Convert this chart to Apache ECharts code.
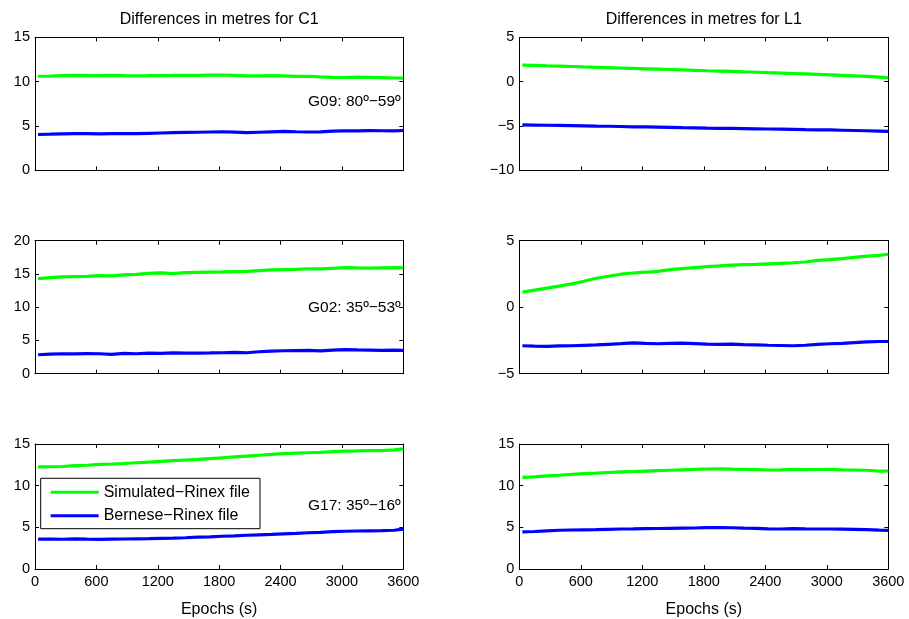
<!DOCTYPE html>
<html>
<head>
<meta charset="utf-8">
<script src="https://cdn.jsdelivr.net/npm/echarts@6/dist/echarts.min.js"></script>
<style>html,body{margin:0;padding:0;background:#fff}#c{width:909px;height:619px}</style>
</head>
<body>
<div id="c"></div>
<script>
// ---- data ----
const epochs = [30,150,270,390,510,630,750,870,990,1110,1230,1350,1470,1590,1710,1830,1950,2070,2190,2310,2430,2550,2670,2790,2910,3030,3150,3270,3390,3510,3600];
const xTicks = [0,600,1200,1800,2400,3000,3600];
const seriesNames = ['Simulated\u2212Rinex file','Bernese\u2212Rinex file'];
const columnTitles = ['Differences in metres for C1','Differences in metres for L1'];
const satLabels = ['G09: 80\u00BA\u221259\u00BA','G02: 35\u00BA\u221253\u00BA','G17: 35\u00BA\u221216\u00BA'];
const xLabel = 'Epochs (s)';

// C1, G09
const simC1G09 = [10.62,10.64,10.68,10.72,10.70,10.69,10.71,10.68,10.67,10.68,10.70,10.71,10.73,10.72,10.74,10.76,10.72,10.66,10.67,10.70,10.65,10.60,10.62,10.55,10.50,10.48,10.52,10.50,10.47,10.42,10.40];
const berC1G09 = [4.05,4.08,4.12,4.15,4.14,4.13,4.15,4.16,4.14,4.18,4.22,4.25,4.28,4.30,4.33,4.36,4.32,4.25,4.30,4.35,4.40,4.36,4.33,4.35,4.42,4.45,4.46,4.48,4.47,4.46,4.50];
// L1, G09
const simL1G09 = [1.88,1.85,1.80,1.76,1.72,1.67,1.63,1.58,1.54,1.50,1.46,1.42,1.38,1.34,1.29,1.24,1.20,1.16,1.11,1.07,1.02,0.98,0.93,0.88,0.83,0.78,0.72,0.66,0.60,0.52,0.45];
const berL1G09 = [-4.87,-4.89,-4.91,-4.93,-4.95,-4.97,-5.00,-5.02,-5.05,-5.08,-5.10,-5.12,-5.15,-5.18,-5.20,-5.23,-5.25,-5.27,-5.29,-5.31,-5.33,-5.35,-5.37,-5.40,-5.42,-5.44,-5.47,-5.50,-5.53,-5.57,-5.60];
// C1, G02
const simC1G02 = [14.30,14.45,14.55,14.60,14.65,14.75,14.70,14.85,14.95,15.10,15.15,15.05,15.20,15.25,15.28,15.30,15.35,15.40,15.50,15.60,15.65,15.70,15.78,15.75,15.85,15.95,15.90,15.88,15.92,15.95,15.90];
const berC1G02 = [2.85,2.95,3.00,2.98,3.02,3.00,2.92,3.05,3.00,3.10,3.05,3.12,3.08,3.10,3.12,3.15,3.20,3.15,3.30,3.38,3.45,3.48,3.50,3.42,3.55,3.62,3.58,3.55,3.52,3.55,3.50];
// L1, G02
const simL1G02 = [1.13,1.28,1.43,1.58,1.75,1.95,2.18,2.33,2.48,2.57,2.63,2.70,2.82,2.90,2.98,3.05,3.10,3.16,3.20,3.22,3.26,3.30,3.34,3.40,3.52,3.58,3.65,3.74,3.84,3.90,3.98];
const berL1G02 = [-2.90,-2.93,-2.94,-2.91,-2.90,-2.87,-2.84,-2.79,-2.74,-2.68,-2.72,-2.75,-2.72,-2.70,-2.74,-2.78,-2.80,-2.78,-2.82,-2.83,-2.86,-2.88,-2.90,-2.86,-2.80,-2.75,-2.72,-2.66,-2.60,-2.58,-2.58];
// C1, G17
const simC1G17 = [12.25,12.27,12.30,12.40,12.45,12.55,12.60,12.66,12.75,12.82,12.92,13.00,13.08,13.15,13.25,13.35,13.45,13.55,13.65,13.75,13.85,13.90,13.95,14.00,14.08,14.15,14.18,14.22,14.20,14.30,14.42];
const berC1G17 = [3.58,3.60,3.57,3.62,3.58,3.56,3.58,3.60,3.62,3.64,3.68,3.70,3.75,3.82,3.85,3.93,3.98,4.05,4.10,4.15,4.22,4.28,4.35,4.40,4.48,4.53,4.56,4.58,4.60,4.65,4.79];
// L1, G17
const simL1G17 = [11.00,11.05,11.18,11.25,11.35,11.45,11.50,11.58,11.65,11.70,11.75,11.80,11.85,11.90,11.95,12.00,12.02,11.98,11.96,11.92,11.88,11.90,11.95,11.92,11.94,11.96,11.90,11.88,11.85,11.75,11.76];
const berL1G17 = [4.45,4.50,4.58,4.65,4.68,4.70,4.72,4.76,4.80,4.82,4.85,4.86,4.88,4.90,4.92,4.96,4.98,4.95,4.90,4.88,4.82,4.80,4.85,4.82,4.80,4.80,4.78,4.75,4.72,4.66,4.64];

// y-axis ranges [min, max, interval] per panel
const yRanges = [[0,15,5],[-10,5,5],[0,20,5],[-5,5,5],[0,15,5],[0,15,5]];
const panelData = [[simC1G09,berC1G09],[simL1G09,berL1G09],[simC1G02,berC1G02],[simL1G02,berL1G02],[simC1G17,berC1G17],[simL1G17,berL1G17]];

// ---- layout ----
const FONT = '"Liberation Sans", Arial, Helvetica, sans-serif';
const colLeft = [35, 519.3];
const colWidth = [368.3, 369];
const rowTop = [37.4, 240.7, 444];
const plotH = 133;
const colors = ['#00ff00', '#0000ff'];
const fmt = v => v < 0 ? '\u2212' + (-v) : String(v);

const grids = [], xAxes = [], yAxes = [], series = [];
for (let p = 0; p < 6; p++) {
  const r = Math.floor(p / 2), c = p % 2;
  grids.push({left: colLeft[c], top: rowTop[r], width: colWidth[c], height: plotH, show: false});
  const bottomRow = r === 2;
  const axLine = {show: true, onZero: false, lineStyle: {color: '#000', width: 1}};
  const tick = {show: true, inside: true, length: 4, lineStyle: {color: '#000'}};
  xAxes.push({
    type: 'value', gridIndex: p, min: xTicks[0], max: xTicks[xTicks.length-1], interval: 600,
    position: 'bottom', axisLine: axLine, axisTick: tick, splitLine: {show: false},
    axisLabel: {show: bottomRow, fontSize: 14.5, color: '#000', fontFamily: FONT, margin: 5, formatter: fmt},
    name: bottomRow ? xLabel : '', nameLocation: 'middle', nameGap: 33,
    nameTextStyle: {fontSize: 16, color: '#000', fontFamily: FONT}
  });
  xAxes.push({
    type: 'value', gridIndex: p, min: xTicks[0], max: xTicks[xTicks.length-1], interval: 600,
    position: 'top', axisLine: axLine, axisTick: tick, splitLine: {show: false},
    axisLabel: {show: false}
  });
  const yr = yRanges[p];
  yAxes.push({
    type: 'value', gridIndex: p, min: yr[0], max: yr[1], interval: yr[2], position: 'left',
    axisLine: axLine, axisTick: tick, splitLine: {show: false},
    axisLabel: {fontSize: 14.5, color: '#000', fontFamily: FONT, margin: 5, formatter: fmt}
  });
  yAxes.push({
    type: 'value', gridIndex: p, min: yr[0], max: yr[1], interval: yr[2], position: 'right',
    axisLine: axLine, axisTick: tick, splitLine: {show: false}, axisLabel: {show: false}
  });
  for (let s = 0; s < 2; s++) {
    series.push({
      type: 'line', name: seriesNames[s], xAxisIndex: 2*p, yAxisIndex: 2*p,
      data: epochs.map((e, k) => [e, panelData[p][s][k]]),
      showSymbol: false, symbol: 'none', smooth: false,
      lineStyle: {color: colors[s], width: 3.2}, itemStyle: {color: colors[s]},
      animation: false, silent: true
    });
  }
}

const graphics = [];
for (let c = 0; c < 2; c++) {
  graphics.push({type: 'text', x: colLeft[c] + colWidth[c]/2, y: 20, style: {
    text: columnTitles[c], fill: '#000', font: '16px ' + FONT, textAlign: 'center', textVerticalAlign: 'middle'}});
}
const annY = [101.7, 307.3, 506];
for (let r = 0; r < 3; r++) {
  graphics.push({type: 'text', x: 308, y: annY[r], style: {
    text: satLabels[r], fill: '#000', font: '15.5px ' + FONT, textAlign: 'left', textVerticalAlign: 'middle'}});
}

const chart = echarts.init(document.getElementById('c'), null, {renderer: 'canvas'});
chart.setOption({
  animation: false,
  backgroundColor: '#fff',
  grid: grids, xAxis: xAxes, yAxis: yAxes, series: series,
  legend: {
    data: seriesNames, orient: 'vertical', left: 40.7, top: 478.3,
    icon: 'rect', itemWidth: 48, itemHeight: 3, itemGap: 7.4,
    padding: [6, 10, 5, 10], borderColor: '#000', borderWidth: 1, backgroundColor: '#fff',
    selectedMode: false,
    textStyle: {fontSize: 16, lineHeight: 16, color: '#000', fontFamily: FONT}
  },
  graphic: graphics
});
</script>
</body>
</html>
